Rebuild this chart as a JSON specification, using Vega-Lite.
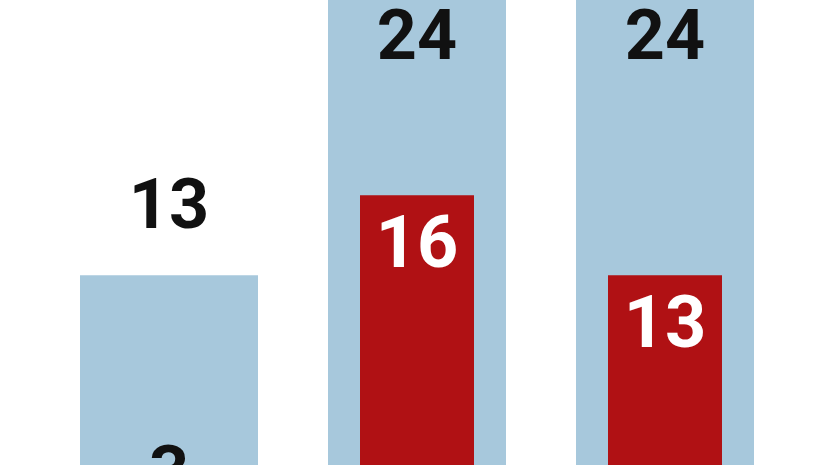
{
  "$schema": "https://vega.github.io/schema/vega-lite/v6.json",
  "width": 826,
  "height": 622,
  "autosize": "none",
  "padding": 0,
  "background": "white",
  "config": {"view": {"stroke": null}},
  "data": {
    "values": [
      {"group": "A", "series": "total", "value": 13},
      {"group": "A", "series": "part", "value": 3},
      {"group": "B", "series": "total", "value": 24},
      {"group": "B", "series": "part", "value": 16},
      {"group": "C", "series": "total", "value": 24},
      {"group": "C", "series": "part", "value": 13}
    ]
  },
  "encoding": {
    "x": {"field": "group", "type": "nominal", "axis": null,
          "scale": {"domain": ["A", "B", "C"], "range": [45, 789], "paddingInner": 0, "paddingOuter": 0}},
    "y": {"field": "value", "type": "quantitative", "axis": null,
          "scale": {"domain": [0, 23.32], "nice": false, "zero": true}}
  },
  "layer": [
    {
      "transform": [{"filter": "datum.series === 'total'"}],
      "mark": {"type": "bar", "width": 178, "color": "#a7c8dc", "clip": true}
    },
    {
      "transform": [{"filter": "datum.series === 'part'"}],
      "mark": {"type": "bar", "width": 114, "color": "#b01114", "clip": true}
    },
    {
      "transform": [{"filter": "datum.group === 'A'"}],
      "mark": {"type": "text", "font": "Roboto, sans-serif", "fontWeight": "bold", "fontSize": 70, "baseline": "alphabetic", "align": "center", "dy": -47, "color": "#111111"},
      "encoding": {"text": {"field": "value", "type": "quantitative"}}
    },
    {
      "transform": [{"filter": "datum.group !== 'A' && datum.series === 'total'"}],
      "mark": {"type": "text", "font": "Roboto, sans-serif", "fontWeight": "bold", "fontSize": 70, "baseline": "alphabetic", "align": "center", "dy": 77, "color": "#111111"},
      "encoding": {"text": {"field": "value", "type": "quantitative"}}
    },
    {
      "transform": [{"filter": "datum.group !== 'A' && datum.series === 'part'"}],
      "mark": {"type": "text", "font": "Roboto, sans-serif", "fontWeight": "bold", "fontSize": 72, "baseline": "alphabetic", "align": "center", "dy": 72, "color": "#ffffff"},
      "encoding": {"text": {"field": "value", "type": "quantitative"}}
    }
  ]
}
